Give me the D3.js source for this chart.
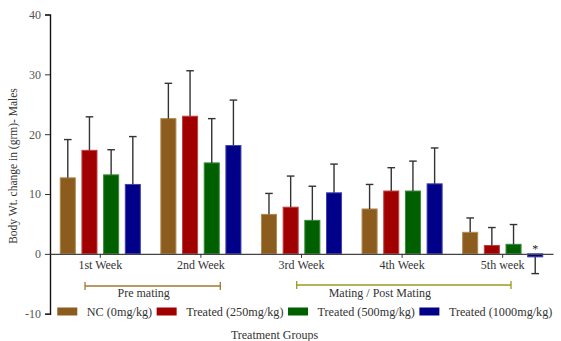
<!DOCTYPE html>
<html><head><meta charset="utf-8">
<script src="https://cdn.jsdelivr.net/npm/d3@7"></script>
<style>
html,body{margin:0;padding:0;background:#fff;}
svg{display:block;}
text{font-family:"Liberation Serif","Times New Roman",serif;}
</style></head>
<body>
<svg id="chart" width="561" height="341"></svg>
<script>
const weeks = ["1st Week","2nd Week","3rd Week","4th Week","5th week"];
const groups = ["NC (0mg/kg)","Treated (250mg/kg)","Treated (500mg/kg)","Treated (1000mg/kg)"];
const colors = ["#8b5c1e","#a00000","#006000","#000088"];
const edgeColors = ["#b08850","#c04040","#3a8a3a","#4040b0"];
const meanNC   = [12.7, 22.6, 6.6, 7.5, 3.6];
const mean250  = [17.3, 23.0, 7.8, 10.5, 1.4];
const mean500  = [13.2, 15.2, 5.6, 10.5, 1.6];
const mean1000 = [11.6, 18.1, 10.2, 11.7, -0.5];
const errNC   = [6.4, 5.9, 3.5, 4.1, 2.4];
const err250  = [5.6, 7.6, 5.2, 3.9, 3.0];
const err500  = [4.2, 7.4, 5.7, 5.0, 3.3];
const err1000 = [8.0, 7.6, 4.8, 6.0, 2.8];
const yTicks = [-10, 0, 10, 20, 30, 40];
const bracketLabels = ["Pre mating", "Mating / Post Mating"];
const bracketWeeks = [[0, 1], [2, 4]];
const bracketColors = ["#a07830", "#9a9a20"];
const sigMarks = [{week:4, group:3, mark:"*"}];

// layout offsets for brackets (pixels relative to band starts)
const bracketOffsets = [[35, 69.7], [45.5, 58.6]];
const bracketY = [286, 285];
const bracketTextShift = [-9, -24];

const means = [meanNC, mean250, mean500, mean1000];
const errs = [errNC, err250, err500, err1000];

const svg = d3.select("#chart");
const y = d3.scaleLinear().domain([-10, 40]).range([313.7, 14.5]);
const x0 = d3.scaleBand().domain(weeks).range([50, 553]).padding(0);
const x1 = d3.scaleBand().domain(d3.range(groups.length)).range([0, x0.bandwidth()])
  .paddingInner(0.26).paddingOuter(0.45);

// bars
weeks.forEach((w, wi) => {
  const g = svg.append("g").attr("transform", `translate(${x0(w)},0)`);
  groups.forEach((gname, gi) => {
    const v = means[gi][wi];
    g.append("rect")
      .attr("x", x1(gi)+0.5).attr("width", x1.bandwidth()-1)
      .attr("y", y(Math.max(0, v))).attr("height", Math.abs(y(v) - y(0)))
      .attr("fill", colors[gi]).attr("stroke", edgeColors[gi]).attr("stroke-width", 1);
    const cx = x1(gi) + x1.bandwidth()/2;
    const e = errs[gi][wi];
    const end = v >= 0 ? v + e : v - e;
    g.append("line").attr("x1", cx).attr("x2", cx).attr("y1", y(v)).attr("y2", y(end))
      .attr("stroke", "#333").attr("stroke-width", 1.4);
    g.append("line").attr("x1", cx-3.8).attr("x2", cx+3.8).attr("y1", y(end)).attr("y2", y(end))
      .attr("stroke", "#333").attr("stroke-width", 1.4);
  });
});

// significance marks
sigMarks.forEach(s => {
  const cx = x0(weeks[s.week]) + x1(s.group) + x1.bandwidth()/2;
  svg.append("text").attr("x", cx).attr("y", y(0) - 1).attr("text-anchor","middle")
    .attr("font-size", 12).attr("fill","#222").text(s.mark);
});

// y axis
const yAxis = svg.append("g").attr("transform","translate(50,0)")
  .call(d3.axisLeft(y).tickValues(yTicks).tickSize(5).tickPadding(4).tickFormat(d => String(d)));
yAxis.select(".domain").attr("stroke","#111").attr("stroke-width",1.4);
yAxis.selectAll(".tick line").attr("stroke","#333");
yAxis.selectAll(".tick text").attr("font-size",12).attr("fill","#555")
  .attr("font-family","'Liberation Serif',serif");

// x axis at zero
const xAxis = svg.append("g").attr("transform",`translate(0,${y(0)})`)
  .call(d3.axisBottom(x0).tickSize(4).tickPadding(3).tickSizeOuter(0));
xAxis.select(".domain").attr("stroke","#444").attr("stroke-width",1.2);
xAxis.selectAll(".tick line").attr("stroke","#333");
xAxis.selectAll(".tick text").attr("font-size",12).attr("fill","#333")
  .attr("font-family","'Liberation Serif',serif");

// brackets
bracketLabels.forEach((label, bi) => {
  const [wa, wb] = bracketWeeks[bi];
  const xa = x0(weeks[wa]) + bracketOffsets[bi][0];
  const xb = x0(weeks[wb]) + bracketOffsets[bi][1];
  const yy = bracketY[bi];
  const col = bracketColors[bi];
  const g = svg.append("g");
  g.append("line").attr("x1",xa).attr("x2",xb).attr("y1",yy).attr("y2",yy)
    .attr("stroke",col).attr("stroke-width",1.3);
  [xa, xb].forEach(xx => g.append("line").attr("x1",xx).attr("x2",xx).attr("y1",yy-4).attr("y2",yy+4)
    .attr("stroke",col).attr("stroke-width",1.3));
  g.append("text").attr("x", (xa+xb)/2 + bracketTextShift[bi]).attr("y", 297).attr("text-anchor","middle")
    .attr("font-size",12).attr("fill","#333").text(label);
});

// legend
let lx = 57.3;
groups.forEach((gname, gi) => {
  svg.append("rect").attr("x", lx).attr("y", 307.5).attr("width", 20).attr("height", 8)
    .attr("fill", colors[gi]);
  const t = svg.append("text").attr("x", lx + 29.5).attr("y", 316)
    .attr("font-size", 12.2).attr("fill","#333").text(gname);
  lx = lx + 29.5 + t.node().getComputedTextLength() + 4.5;
});

// axis titles
svg.append("text").attr("x", 274.5).attr("y", 339).attr("text-anchor","middle")
  .attr("font-size",12).attr("fill","#333").text("Treatment Groups");
svg.append("text").attr("transform","translate(17,166) rotate(-90)").attr("text-anchor","middle")
  .attr("font-size",11.5).attr("fill","#333").text("Body Wt. change in (grm)- Males");
</script>
</body></html>
